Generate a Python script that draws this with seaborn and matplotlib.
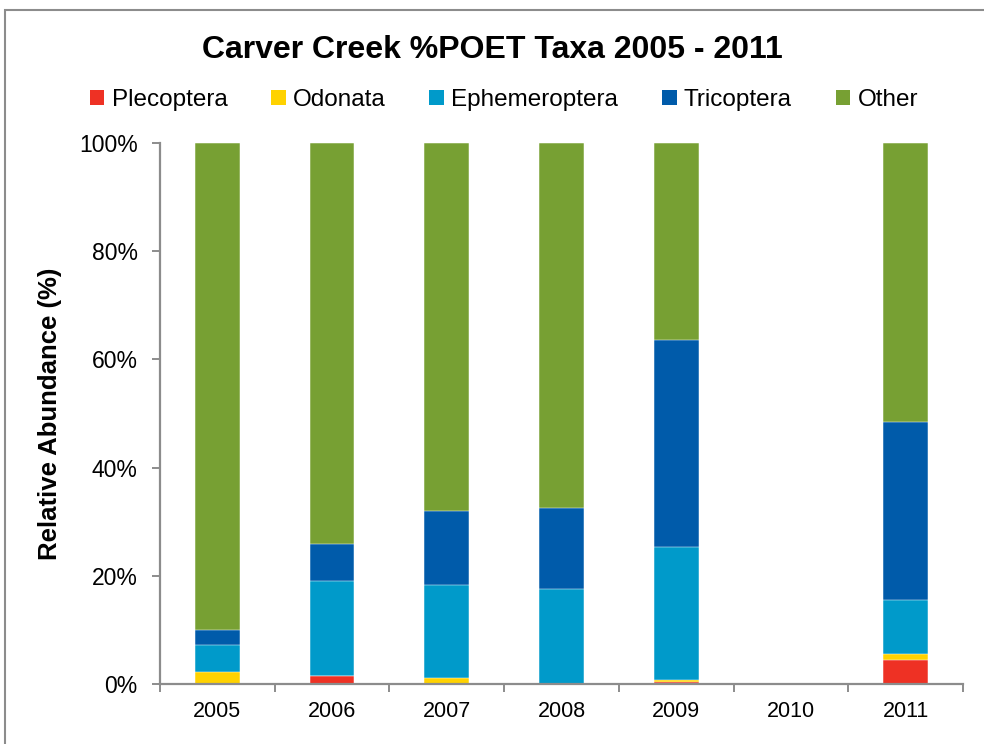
import matplotlib
matplotlib.use("Agg")
import matplotlib.pyplot as plt
from matplotlib.patches import Patch, Rectangle
from matplotlib.ticker import PercentFormatter, FixedLocator, NullFormatter
import numpy as np
import pandas as pd
import seaborn as sns

# Relative abundance (%) of each taxon group per sampling year
years = ["2005", "2006", "2007", "2008", "2009", "2010", "2011"]
plecoptera = [0.0, 1.4, 0.0, 0.0, 0.4, 0.0, 4.4]
odonata = [2.2, 0.0, 1.1, 0.0, 0.4, 0.0, 1.1]
ephemeroptera = [5.1, 17.6, 17.2, 17.5, 24.5, 0.0, 10.0]
tricoptera = [2.6, 6.9, 13.7, 15.0, 38.3, 0.0, 32.9]
other = [90.1, 74.1, 68.0, 67.5, 36.4, 0.0, 51.6]

groups = ["Plecoptera", "Odonata", "Ephemeroptera", "Tricoptera", "Other"]
colors = ["#EE3124", "#FFD200", "#009ACA", "#005BAA", "#77A033"]

df = pd.DataFrame({
    "Year": years,
    "Plecoptera": plecoptera,
    "Odonata": odonata,
    "Ephemeroptera": ephemeroptera,
    "Tricoptera": tricoptera,
    "Other": other,
})
# cumulative tops for stacking (fractions of 1)
cum = df[groups].cumsum(axis=1) / 100.0
cum["Year"] = df["Year"]

sns.set_style("white")
plt.rcParams["font.family"] = ["Liberation Sans", "DejaVu Sans"]
plt.rcParams["text.color"] = "black"
plt.rcParams["xtick.color"] = "black"
plt.rcParams["ytick.color"] = "black"
plt.rcParams["axes.labelcolor"] = "black"

fig = plt.figure(figsize=(9.84, 7.44), dpi=100)
ax = fig.add_axes([160 / 984, 1 - 684 / 744, (963 - 160) / 984, (684 - 143) / 744])

# draw from the top layer down so each lower segment overlays the one above
for g, c in reversed(list(zip(groups, colors))):
    sns.barplot(data=cum, x="Year", y=g, color=c, width=0.39, ax=ax,
                edgecolor="white", linewidth=0.35, saturation=1, errorbar=None)

ax.set_ylim(0, 1)
ax.set_xlim(-0.5, len(years) - 0.5)
ax.yaxis.set_major_formatter(PercentFormatter(1.0, decimals=0))
ax.set_yticks(np.linspace(0, 1, 6))

gray = "#8C8C8C"
for s in ["top", "right"]:
    ax.spines[s].set_visible(False)
for s in ["left", "bottom"]:
    ax.spines[s].set_color(gray)
    ax.spines[s].set_linewidth(1.6)

ax.tick_params(axis="y", which="major", direction="out", length=6, width=1.4,
               color=gray, labelcolor="black", labelsize=16.5, pad=10, left=True)
ax.tick_params(axis="x", which="major", length=0, labelcolor="black",
               labelsize=15.5, pad=12)
ax.xaxis.set_minor_locator(FixedLocator(np.arange(-0.5, len(years), 1.0)))
ax.xaxis.set_minor_formatter(NullFormatter())
ax.tick_params(axis="x", which="minor", direction="out", length=6, width=1.4,
               color=gray, bottom=True)

ax.set_xlabel("")
ax.set_ylabel("Relative Abundance (%)", fontsize=18.5, fontweight="bold",
              labelpad=12, color="black")

fig.text(0.5, 1 - 50 / 744, "Carver Creek %POET Taxa 2005 - 2011",
         ha="center", va="center", fontsize=23, fontweight="bold", color="black")

handles = [Patch(facecolor=c, edgecolor="none", label=g) for g, c in zip(groups, colors)]
fig.legend(handles=handles, loc="center", bbox_to_anchor=(0.512, 1 - 100 / 744),
           ncol=5, frameon=False, fontsize=17.5, handlelength=0.6, handleheight=0.6,
           handletextpad=0.3, columnspacing=1.8, borderaxespad=0)

# outer chart border
fig.patches.append(Rectangle((5 / 984, -0.1), 1.2, 1 - 10 / 744 + 0.1,
                             transform=fig.transFigure, fill=False,
                             edgecolor="#8C8C8C", linewidth=1.5))

fig.savefig("out.png", dpi=100)
